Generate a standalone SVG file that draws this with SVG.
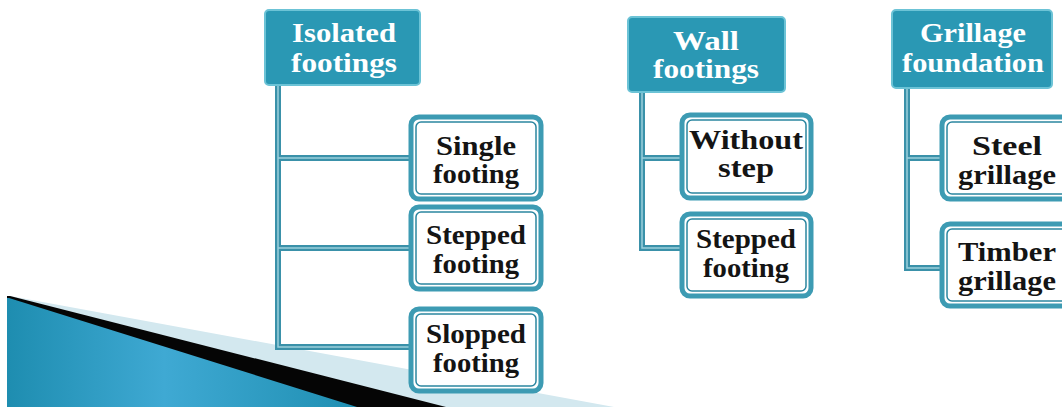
<svg xmlns="http://www.w3.org/2000/svg" width="1062" height="407" viewBox="0 0 1062 407">
  <defs>
    <linearGradient id="blueGrad" x1="0" y1="0" x2="1" y2="0">
      <stop offset="0" stop-color="#1e8db0"/>
      <stop offset="0.45" stop-color="#3fa9d3"/>
      <stop offset="1" stop-color="#1f8fb2"/>
    </linearGradient>
    <style>
      .hdr-box { fill: #2a98b4; stroke: #6cc3d6; stroke-width: 2; }
      .hdr-txt { font-family: 'Liberation Serif', 'Times New Roman', Tinos, serif; font-weight: 700; font-size: 28px; fill: #ffffff; text-anchor: middle; }
      .box-outer { fill: #ffffff; stroke: #3d9bb3; stroke-width: 5; }
      .box-inner { fill: none; stroke: #2b86a0; stroke-width: 1.5; }
      .box-txt { font-family: 'Liberation Serif', 'Times New Roman', Tinos, serif; font-weight: 700; font-size: 27px; fill: #141414; text-anchor: middle; }
      .conn { fill: none; stroke: #3a91a9; stroke-width: 6; }
      .conn-hi { fill: none; stroke: #9ccfdc; stroke-width: 1.5; }
    </style>
  </defs>
  <rect width="1062" height="407" fill="#ffffff"/>

  <!-- decoration bottom-left -->
  <polygon points="10,296 614,407 7,407 7,296" fill="#d3e8ef"/>
  <polygon points="10,296 446,407 7,407 7,296" fill="#050505"/>
  <polygon points="9,298 357,407 7,407 7,298" fill="url(#blueGrad)"/>

  <!-- connectors -->
  <g id="connectors">
    <path class="conn" d="M278,85 V347 H412 M278,158 H412 M278,248 H412"/>
    <path class="conn-hi" d="M278,85 V347 H412 M278,158 H412 M278,248 H412"/>
    <path class="conn" d="M642,92 V248 H683 M642,158 H683"/>
    <path class="conn-hi" d="M642,92 V248 H683 M642,158 H683"/>
    <path class="conn" d="M907,88 V268 H943 M907,158 H943"/>
    <path class="conn-hi" d="M907,88 V268 H943 M907,158 H943"/>
  </g>

  <!-- headers -->
  <g id="isolated-footings">
    <rect class="hdr-box" x="265" y="10" width="155" height="75" rx="4"/>
    <text class="hdr-txt" x="344" y="42" textLength="104" lengthAdjust="spacingAndGlyphs">Isolated</text>
    <text class="hdr-txt" x="344" y="72" textLength="106" lengthAdjust="spacingAndGlyphs">footings</text>
  </g>
  <g id="wall-footings">
    <rect class="hdr-box" x="628" y="17" width="157" height="75" rx="4"/>
    <text class="hdr-txt" x="706" y="50" textLength="66" lengthAdjust="spacingAndGlyphs">Wall</text>
    <text class="hdr-txt" x="706" y="78" textLength="106" lengthAdjust="spacingAndGlyphs">footings</text>
  </g>
  <g id="grillage-foundation">
    <rect class="hdr-box" x="892" y="10" width="160" height="78" rx="4"/>
    <text class="hdr-txt" x="973" y="42" textLength="106" lengthAdjust="spacingAndGlyphs">Grillage</text>
    <text class="hdr-txt" x="973" y="72" textLength="142" lengthAdjust="spacingAndGlyphs">foundation</text>
  </g>

  <!-- children: isolated -->
  <g id="single-footing">
    <rect class="box-outer" x="411" y="117" width="130" height="82" rx="8"/>
    <rect class="box-inner" x="416" y="122" width="120" height="72" rx="5"/>
    <text class="box-txt" x="476" y="155" textLength="80" lengthAdjust="spacingAndGlyphs">Single</text>
    <text class="box-txt" x="476" y="183" textLength="86" lengthAdjust="spacingAndGlyphs">footing</text>
  </g>
  <g id="stepped-footing-1">
    <rect class="box-outer" x="411" y="207" width="130" height="82" rx="8"/>
    <rect class="box-inner" x="416" y="212" width="120" height="72" rx="5"/>
    <text class="box-txt" x="476" y="244" textLength="100" lengthAdjust="spacingAndGlyphs">Stepped</text>
    <text class="box-txt" x="476" y="273" textLength="86" lengthAdjust="spacingAndGlyphs">footing</text>
  </g>
  <g id="slopped-footing">
    <rect class="box-outer" x="411" y="309" width="130" height="82" rx="8"/>
    <rect class="box-inner" x="416" y="314" width="120" height="72" rx="5"/>
    <text class="box-txt" x="476" y="343" textLength="100" lengthAdjust="spacingAndGlyphs">Slopped</text>
    <text class="box-txt" x="476" y="372" textLength="86" lengthAdjust="spacingAndGlyphs">footing</text>
  </g>

  <!-- children: wall -->
  <g id="without-step">
    <rect class="box-outer" x="682" y="115" width="129" height="83" rx="8"/>
    <rect class="box-inner" x="687" y="120" width="119" height="73" rx="5"/>
    <text class="box-txt" x="746" y="149" textLength="114" lengthAdjust="spacingAndGlyphs">Without</text>
    <text class="box-txt" x="746" y="177" textLength="56" lengthAdjust="spacingAndGlyphs">step</text>
  </g>
  <g id="stepped-footing-2">
    <rect class="box-outer" x="682" y="214" width="129" height="82" rx="8"/>
    <rect class="box-inner" x="687" y="219" width="119" height="72" rx="5"/>
    <text class="box-txt" x="746" y="248" textLength="100" lengthAdjust="spacingAndGlyphs">Stepped</text>
    <text class="box-txt" x="746" y="277" textLength="86" lengthAdjust="spacingAndGlyphs">footing</text>
  </g>

  <!-- children: grillage -->
  <g id="steel-grillage">
    <rect class="box-outer" x="942" y="117" width="130" height="82" rx="8"/>
    <rect class="box-inner" x="947" y="122" width="120" height="72" rx="5"/>
    <text class="box-txt" x="1007" y="155" textLength="70" lengthAdjust="spacingAndGlyphs">Steel</text>
    <text class="box-txt" x="1007" y="184" textLength="98" lengthAdjust="spacingAndGlyphs">grillage</text>
  </g>
  <g id="timber-grillage">
    <rect class="box-outer" x="942" y="224" width="130" height="82" rx="8"/>
    <rect class="box-inner" x="947" y="229" width="120" height="72" rx="5"/>
    <text class="box-txt" x="1007" y="261" textLength="98" lengthAdjust="spacingAndGlyphs">Timber</text>
    <text class="box-txt" x="1007" y="290" textLength="98" lengthAdjust="spacingAndGlyphs">grillage</text>
  </g>
</svg>
